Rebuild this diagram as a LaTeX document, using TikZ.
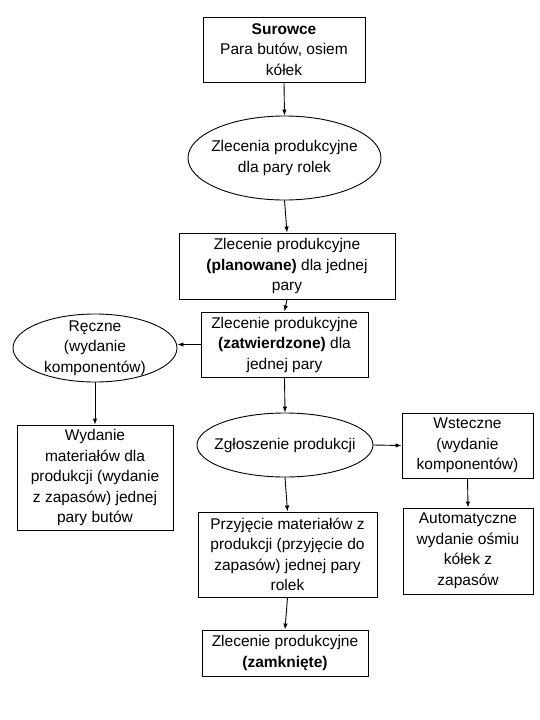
\documentclass[tikz,border=0pt]{standalone}
\usepackage{fontspec}
\setmainfont{Liberation Sans}
\usetikzlibrary{shapes.geometric,arrows.meta}
\tikzset{
  txt/.style={inner sep=0pt, align=center,
    font=\fontsize{15.5}{20.5}\selectfont, text=black},
  boxnode/.style={txt, draw=black, line width=0.9pt, rectangle},
  ovalnode/.style={draw=black, line width=0.9pt, ellipse, inner sep=0pt},
  conn/.style={draw=black, line width=0.9pt, -{Latex[length=6pt,width=4.5pt]}}
}
\begin{document}
\begin{tikzpicture}[x=1pt,y=-1pt]
\useasboundingbox[fill=white] (0,0) rectangle (540,720);

\node[boxnode, minimum width=162, minimum height=65] (sur) at (284,49.5)
  {\textbf{Surowce}\\Para butów, osiem\\kółek};
\node[ovalnode, minimum width=193, minimum height=84] (e1) at (284.5,158) {};
\node[txt] (e1t) at (e1.center) {Zlecenia produkcyjne\\dla pary rolek};
\node[boxnode, minimum width=216, minimum height=66] (b2) at (287,266)
  {Zlecenie produkcyjne\\\textbf{(planowane)} dla jednej\\pary};
\node[boxnode, minimum width=167, minimum height=65] (b3) at (284.5,344.5)
  {Zlecenie produkcyjne\\\textbf{(zatwierdzone)} dla\\jednej pary};
\node[ovalnode, minimum width=164, minimum height=68] (rc) at (95,348) {};
\node[txt] (rct) at (rc.center) {Ręczne\\(wydanie\\komponentów)};
\node[boxnode, minimum width=156, minimum height=105] (wyd) at (95,477.5)
  {Wydanie\\materiałów dla\\produkcji (wydanie\\z zapasów) jednej\\pary butów};
\node[ovalnode, minimum width=176, minimum height=64] (zg) at (285,445) {};
\node[txt] (zgt) at (zg.center) {Zgłoszenie produkcji};
\node[boxnode, minimum width=131, minimum height=65] (wst) at (467.5,445.5)
  {Wsteczne\\(wydanie\\komponentów)};
\node[boxnode, minimum width=130, minimum height=86] (aut) at (468,551)
  {Automatyczne\\wydanie ośmiu\\kółek z\\zapasów};
\node[boxnode, minimum width=179, minimum height=85] (prz) at (287.5,554.5)
  {Przyjęcie materiałów z\\produkcji (przyjęcie do\\zapasów) jednej pary\\rolek};
\node[boxnode, minimum width=166, minimum height=46] (zam) at (285,653)
  {Zlecenie produkcyjne\\\textbf{(zamknięte)}};

\draw[conn] (sur.south) -- (e1.north);
\draw[conn] (e1.south) -- (b2.north);
\draw[conn] (b2.south) -- (b3.north);
\draw[conn] (b3.west) -- (b3.west -| rc.east);
\draw[conn] (rc.south) -- (wyd.north);
\draw[conn] (b3.south) -- (zg.north);
\draw[conn] (zg.east) -- (wst.west);
\draw[conn] (wst.south) -- (aut.north);
\draw[conn] (zg.south) -- (prz.north);
\draw[conn] (prz.south) -- (zam.north);
\end{tikzpicture}
\end{document}
